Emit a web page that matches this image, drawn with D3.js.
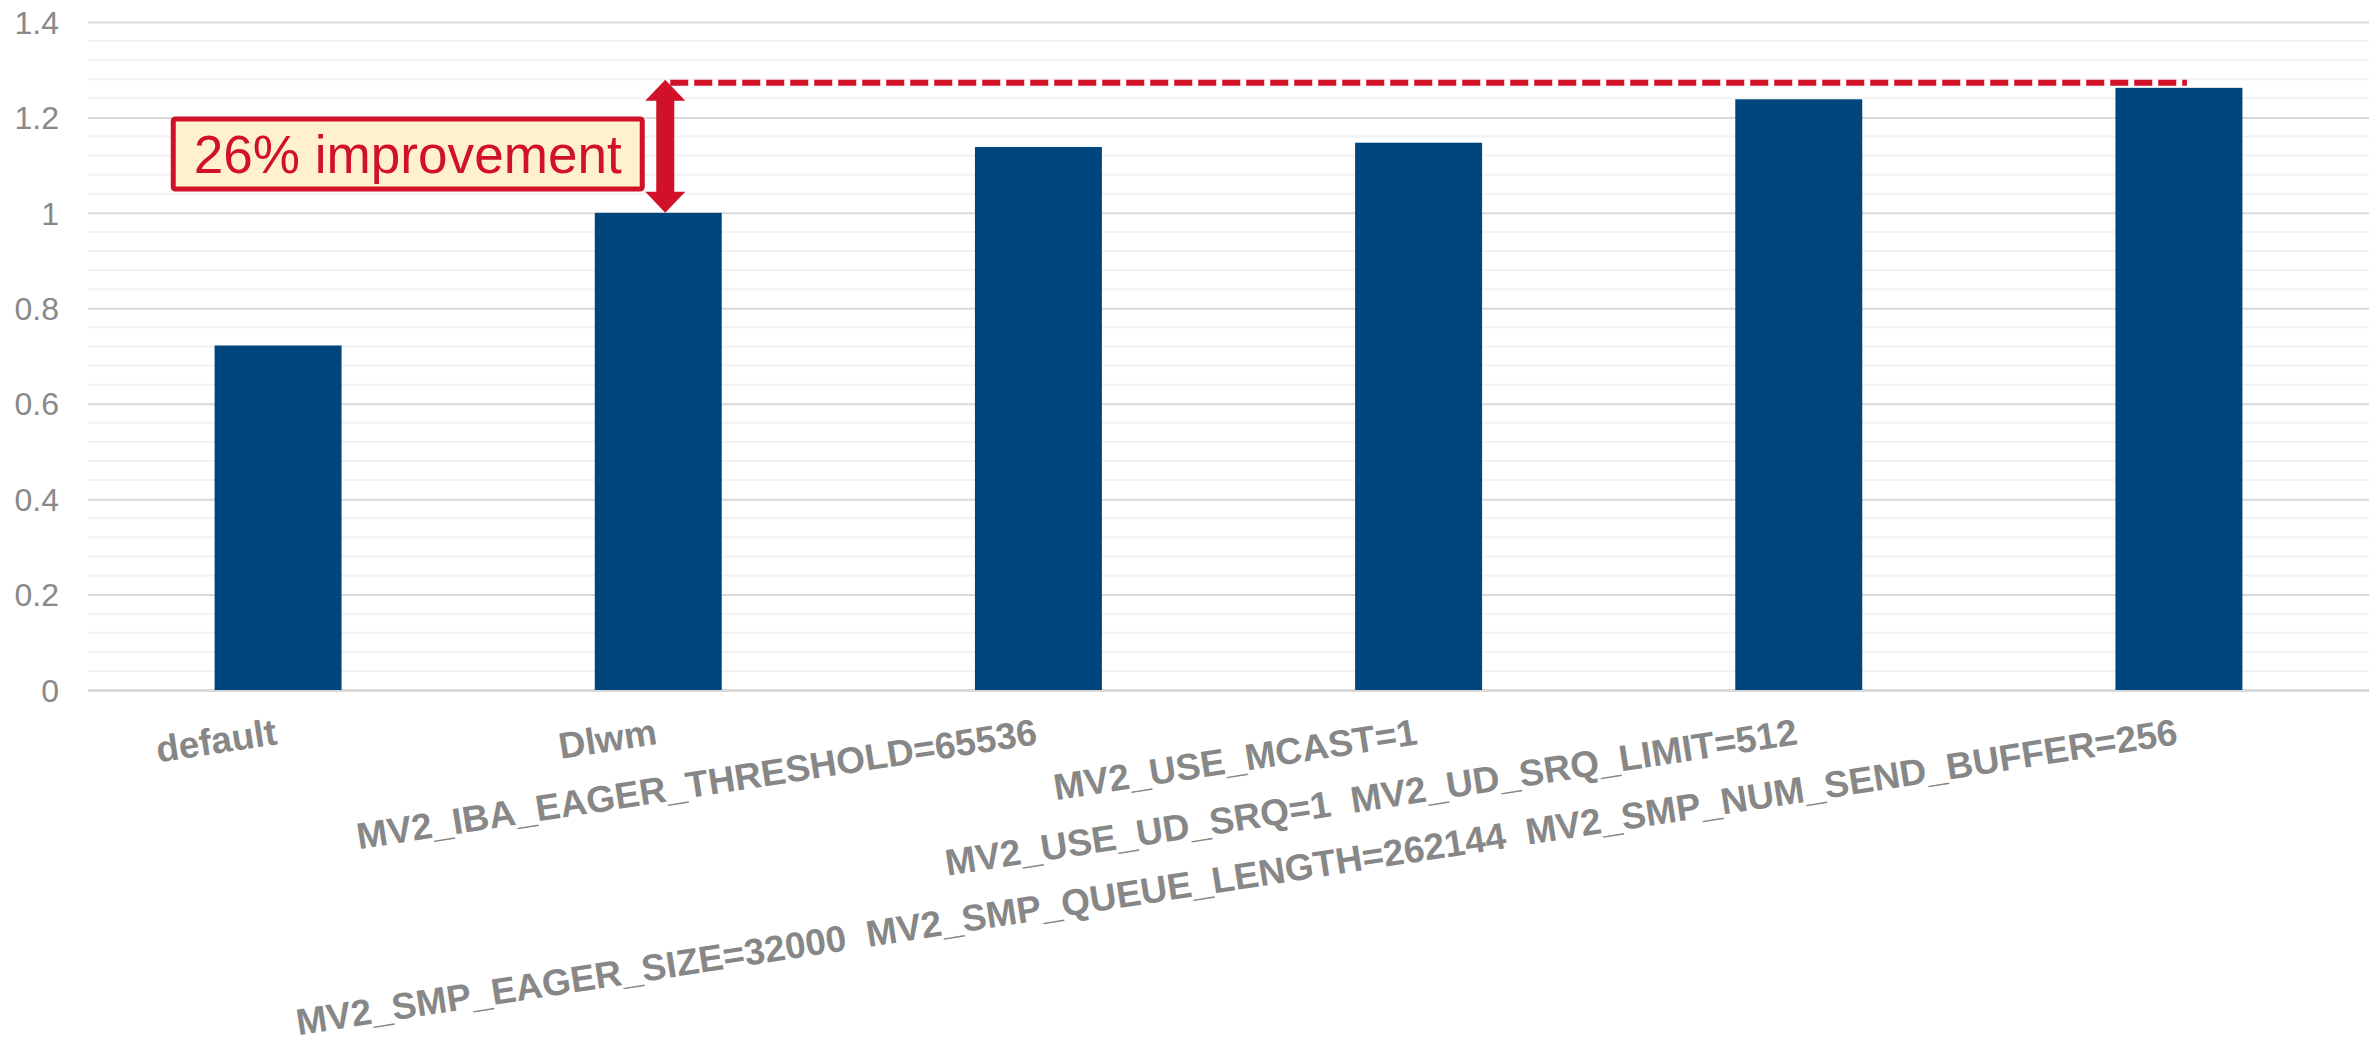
<!DOCTYPE html>
<html>
<head>
<meta charset="utf-8">
<script src="https://cdn.jsdelivr.net/npm/d3@7"></script>
<style>
  html, body { margin: 0; padding: 0; background: #ffffff; }
  svg { display: block; }
  text { font-family: "Liberation Sans", Arial, sans-serif; }
</style>
</head>
<body>
<svg id="chart" width="2377" height="1047"></svg>
<script>
// Normalised performance of each MVAPICH2 tuning configuration
const categories = [
  "default",
  "Dlwm",
  "MV2_IBA_EAGER_THRESHOLD=65536",
  "MV2_USE_MCAST=1",
  "MV2_USE_UD_SRQ=1  MV2_UD_SRQ_LIMIT=512",
  "MV2_SMP_EAGER_SIZE=32000  MV2_SMP_QUEUE_LENGTH=262144  MV2_SMP_NUM_SEND_BUFFER=256"
];
const values = [0.722, 1.0, 1.138, 1.147, 1.238, 1.262];
const yTicks = [0, 0.2, 0.4, 0.6, 0.8, 1, 1.2, 1.4];
const yMinorStep = 0.04;
const yMax = 1.4;
const annotationText = "26% improvement";
const annotationFrom = "Dlwm";
const annotationTo = categories[categories.length - 1];

const svg = d3.select("#chart");
const plot = { left: 88, right: 2369, top: 22, bottom: 690 };

const x = d3.scaleBand()
  .domain(categories)
  .range([plot.left, plot.right])
  .paddingInner(0.666)
  .paddingOuter(0.333);

const y = d3.scaleLinear()
  .domain([0, yMax])
  .range([plot.bottom, plot.top]);

// Minor gridlines
const minorTicks = d3.range(0, yMax + 1e-9, yMinorStep)
  .filter(v => Math.abs(v / 0.2 - Math.round(v / 0.2)) > 1e-6);
svg.append("g")
  .selectAll("line")
  .data(minorTicks)
  .join("line")
  .attr("x1", plot.left).attr("x2", plot.right)
  .attr("y1", d => y(d)).attr("y2", d => y(d))
  .attr("stroke", "#f2f2f2").attr("stroke-width", 2);

// Major gridlines + y axis labels
const yAxis = d3.axisLeft(y)
  .tickValues(yTicks)
  .tickSize(-(plot.right - plot.left))
  .tickPadding(29)
  .tickFormat(d => d3.format("~g")(d));
const gy = svg.append("g")
  .attr("transform", `translate(${plot.left},0)`)
  .call(yAxis);
gy.select(".domain").remove();
gy.selectAll(".tick line")
  .attr("stroke", "#d9d9d9")
  .attr("stroke-width", d => d === 0 ? 3 : 2);
gy.selectAll(".tick text")
  .attr("fill", "#898989")
  .attr("font-size", 32)
  .attr("font-family", "'Liberation Sans', Arial, sans-serif")
  .attr("dy", "0.35em");

// Bars
svg.append("g")
  .selectAll("rect")
  .data(categories.map((c, i) => ({ c, v: values[i] })))
  .join("rect")
  .attr("x", d => x(d.c))
  .attr("width", x.bandwidth())
  .attr("y", d => y(d.v))
  .attr("height", d => y(0) - y(d.v))
  .attr("fill", "#00467c");

// Rotated category labels, each ending under its bar
const xAxis = d3.axisBottom(x).tickSize(0).tickPadding(0);
const gx = svg.append("g")
  .attr("transform", `translate(0,${plot.bottom})`)
  .call(xAxis);
gx.select(".domain").remove();
gx.selectAll(".tick text")
  .attr("fill", "#878787")
  .attr("font-size", 37)
  .attr("font-weight", "bold")
  .attr("font-family", "'Liberation Sans', Arial, sans-serif")
  .attr("text-anchor", "end")
  .attr("dy", null)
  .attr("y", 0)
  .attr("transform", "translate(0,54) rotate(-8.8)")
  .style("white-space", "pre");

// Improvement annotation: double arrow, dashed reference line and callout box
const red = "#d01128";
const fromVal = values[categories.indexOf(annotationFrom)];
const toVal = values[categories.indexOf(annotationTo)];
const ax = x(annotationFrom) + x.bandwidth() / 2 + 7;
const yBottom = y(fromVal);
const yTop = y(toVal) - 8;
const headLen = 21, headHalf = 20, shaftHalf = 9;

const ann = svg.append("g");
ann.append("line")
  .attr("x1", ax + 5)
  .attr("x2", x(annotationTo) + x.bandwidth() / 2 + 8)
  .attr("y1", yTop + 3).attr("y2", yTop + 3)
  .attr("stroke", red).attr("stroke-width", 6)
  .attr("stroke-dasharray", "18 6");

ann.append("path")
  .attr("d", d3.line()([
    [ax, yTop],
    [ax + headHalf, yTop + headLen],
    [ax + shaftHalf, yTop + headLen],
    [ax + shaftHalf, yBottom - headLen],
    [ax + headHalf, yBottom - headLen],
    [ax, yBottom],
    [ax - headHalf, yBottom - headLen],
    [ax - shaftHalf, yBottom - headLen],
    [ax - shaftHalf, yTop + headLen],
    [ax - headHalf, yTop + headLen]
  ]) + "Z")
  .attr("fill", red);

const box = { right: ax - 23, width: 469, height: 70, cy: 154 };
ann.append("rect")
  .attr("x", box.right - box.width)
  .attr("y", box.cy - box.height / 2)
  .attr("width", box.width)
  .attr("height", box.height)
  .attr("rx", 2)
  .attr("fill", "#fff1cb")
  .attr("stroke", red)
  .attr("stroke-width", 5);

ann.append("text")
  .attr("x", box.right - box.width / 2)
  .attr("y", box.cy + 19)
  .attr("text-anchor", "middle")
  .attr("font-size", 54)
  .attr("textLength", 428)
  .attr("lengthAdjust", "spacingAndGlyphs")
  .attr("fill", red)
  .text(annotationText);
</script>
</body>
</html>
